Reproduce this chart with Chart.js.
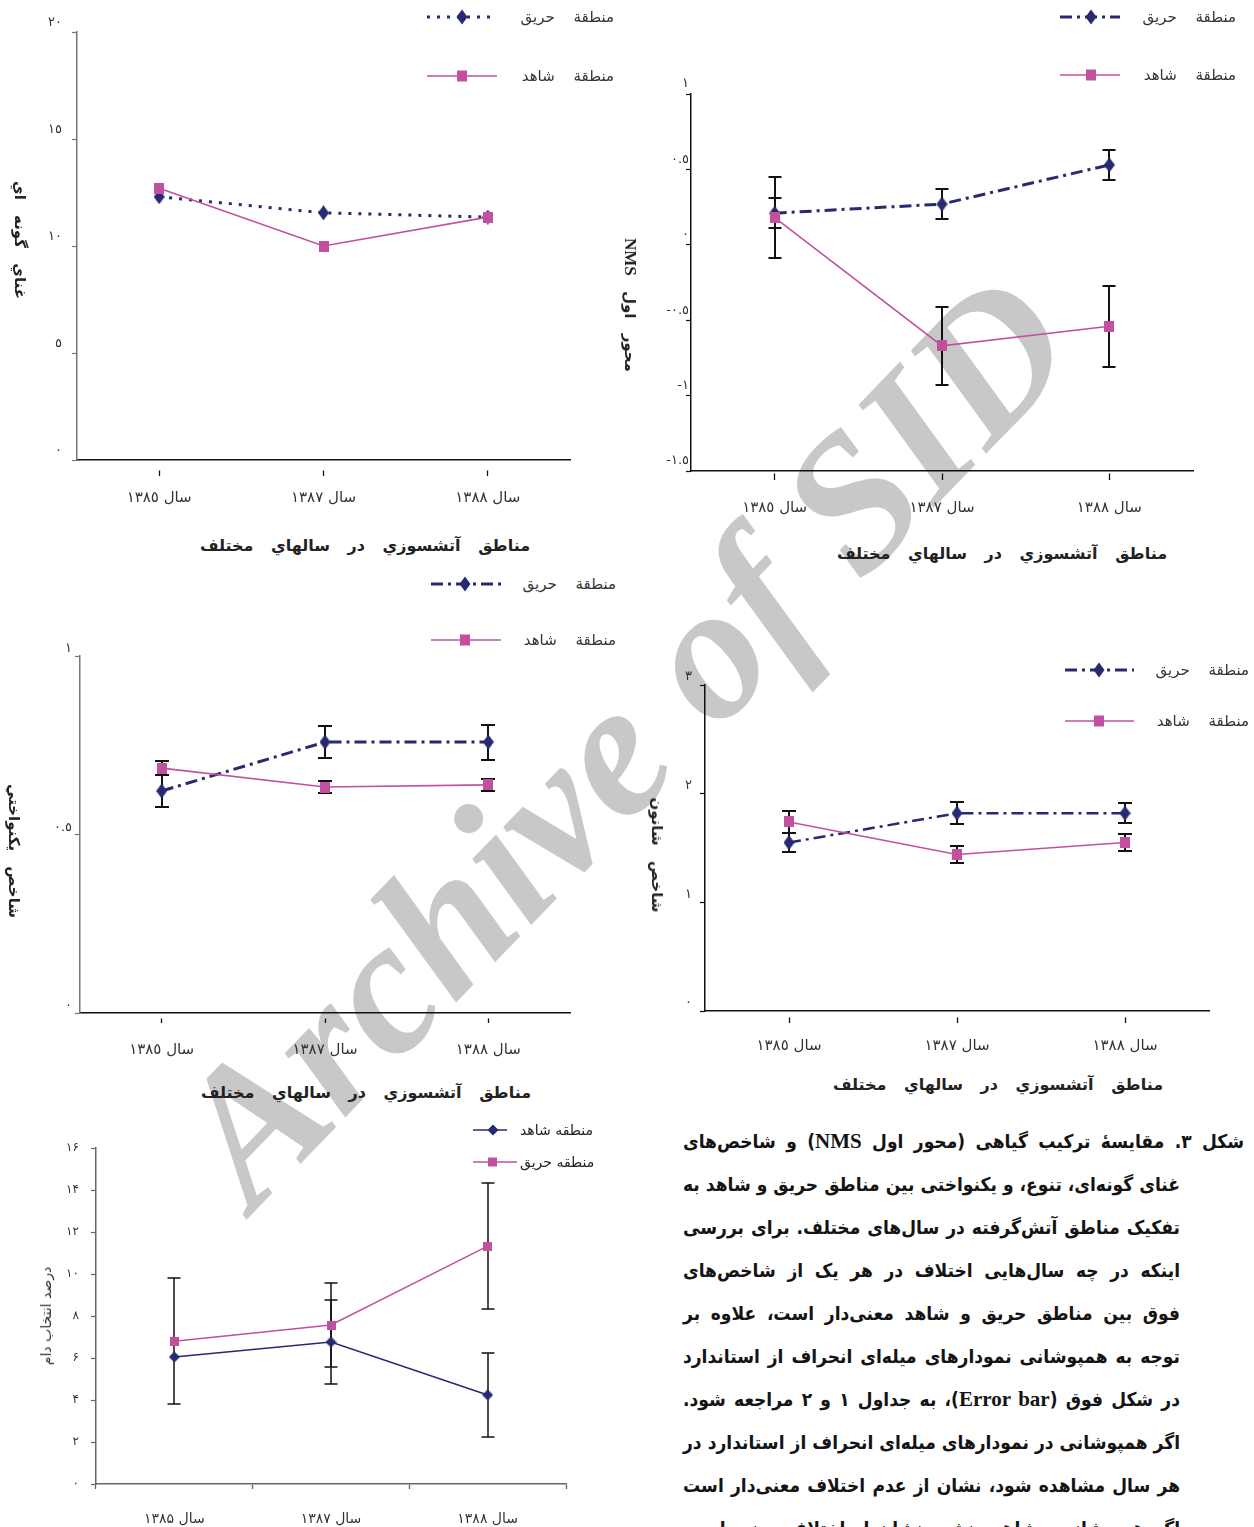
<!DOCTYPE html>
<html lang="fa">
<head>
<meta charset="utf-8">
<title>شکل ۳</title>
<script src="https://cdn.jsdelivr.net/npm/chart.js@4.4.1/dist/chart.umd.min.js"></script>
<style>
  html, body { margin: 0; padding: 0; background: #fff; }
  body { position: relative; width: 1254px; height: 1527px; overflow: hidden;
         font-family: "DejaVu Sans", sans-serif; color: #333; }
  canvas.ch { position: absolute; z-index: 2; }
  .abs { position: absolute; z-index: 3; white-space: nowrap; direction: rtl; }
  .lg { font-size: 15px; word-spacing: 14px; line-height: 18px; color: #333; }
  .lg5 { font-size: 14px; line-height: 18px; color: #222; }
  .xt { font-weight: bold; font-size: 16px; word-spacing: 12px; color: #222;
        transform: translate(-50%, -50%); }
  .yt { font-weight: bold; font-size: 15px; word-spacing: 10px; color: #222;
        transform: translate(-50%, -50%) rotate(90deg); }
  .yt5 { font-size: 14px; color: #333; transform: translate(-50%, -50%) rotate(-90deg); }
  .lat { font-family: "Liberation Serif", serif; font-weight: bold; font-size: 17px; word-spacing: 0; }
  #wm { position: absolute; z-index: 1; left: 622px; top: 738px; white-space: nowrap;
        font: italic bold 192px "Liberation Serif", serif; color: #c8c8c8;
        transform: translate(-50%, -50%) rotate(-46deg); }
  #cap { position: absolute; z-index: 3; left: 0; top: 0; direction: rtl;
         font-family: "DejaVu Sans Condensed", "DejaVu Sans", sans-serif;
         font-weight: bold; font-size: 19px; color: #141414; }
  #cap div { position: absolute; white-space: nowrap; height: 43px; line-height: 43px;
             text-align: justify; text-align-last: justify; }
  #cap .lat { font-size: 21px; }
</style>
</head>
<body>
<div id="wm">Archive of SID</div>

<canvas class="ch" id="c1" width="600" height="520" style="left:0;top:0"></canvas>
<canvas class="ch" id="c2" width="620" height="530" style="left:620px;top:0"></canvas>
<canvas class="ch" id="c3" width="600" height="470" style="left:0;top:600px"></canvas>
<canvas class="ch" id="c4" width="620" height="430" style="left:630px;top:640px"></canvas>
<canvas class="ch" id="c5" width="600" height="417" style="left:0;top:1110px"></canvas>

<div id="cap">
  <div style="left:683px;width:561px;top:1120px">شکل ۳. مقایسهٔ ترکیب گیاهی (محور اول <span class="lat">NMS</span>) و شاخص‌های</div>
  <div style="left:683px;width:497px;top:1163px">غنای گونه‌ای، تنوع، و یکنواختی بین مناطق حریق و شاهد به</div>
  <div style="left:683px;width:497px;top:1206px">تفکیک مناطق آتش‌گرفته در سال‌های مختلف. برای بررسی</div>
  <div style="left:683px;width:497px;top:1249px">اینکه در چه سال‌هایی اختلاف در هر یک از شاخص‌های</div>
  <div style="left:683px;width:497px;top:1292px">فوق بین مناطق حریق و شاهد معنی‌دار است، علاوه بر</div>
  <div style="left:683px;width:497px;top:1335px">توجه به همپوشانی نمودارهای میله‌ای انحراف از استاندارد</div>
  <div style="left:683px;width:497px;top:1378px">در شکل فوق (<span class="lat">Error bar</span>)، به جداول ۱ و ۲ مراجعه شود.</div>
  <div style="left:683px;width:497px;top:1421px">اگر همپوشانی در نمودارهای میله‌ای انحراف از استاندارد در</div>
  <div style="left:683px;width:497px;top:1464px">هر سال مشاهده شود، نشان از عدم اختلاف معنی‌دار است</div>
  <div style="left:683px;width:497px;top:1507px">اگر همپوشانی مشاهده نشود نشان از اختلاف معنی‌دار در</div>
</div>

<script>
"use strict";

// ---------------------------------------------------------------------------
// Values
// ---------------------------------------------------------------------------
const YEARS_AR = ["سال ١٣٨٥", "سال ١٣٨٧", "سال ١٣٨٨"];
const YEARS_FA = ["سال ۱۳۸۵", "سال ۱۳۸۷", "سال ۱۳۸۸"];

// species richness (no error bars)
const RICH_FIRE = [12.3, 11.55, 11.35];
const RICH_CTRL = [12.7, 10.0, 11.35];

// NMS axis 1, mean and SD
const NMS_FIRE = [0.21, 0.27, 0.53];
const NMS_FIRE_SD = [0.1, 0.1, 0.1];
const NMS_CTRL = [0.18, -0.67, -0.54];
const NMS_CTRL_SD = [0.27, 0.26, 0.27];

// evenness
const EVEN_FIRE = [0.622, 0.759, 0.759];
const EVEN_FIRE_SD = [0.046, 0.046, 0.049];
const EVEN_CTRL = [0.686, 0.633, 0.639];
const EVEN_CTRL_SD = [0.02, 0.017, 0.017];

// shannon
const SHAN_FIRE = [1.55, 1.82, 1.82];
const SHAN_FIRE_SD = [0.09, 0.1, 0.09];
const SHAN_CTRL = [1.74, 1.44, 1.55];
const SHAN_CTRL_SD = [0.1, 0.08, 0.08];

// grazing preference (%)
const GRAZE_CTRL = [6.05, 6.76, 4.24];
const GRAZE_CTRL_SD = [null, 2.0, 2.0];
const GRAZE_FIRE = [6.8, 7.57, 11.33];
const GRAZE_FIRE_SD = [3.0, 2.0, 3.0];

// ---------------------------------------------------------------------------
// helpers
// ---------------------------------------------------------------------------
const NAVY = "#272a6e";
const PINK = "#c1519f";
const DASHDOT = [12, 5, 3, 5];

const AR = "٠١٢٣٤٥٦٧٨٩";
const FA = "۰۱۲۳۴۵۶۷۸۹";
const toAr = (v) => String(+v.toFixed(2)).replace(/\d/g, (d) => AR[d]);
const toFa = (v) => String(+v.toFixed(2)).replace(/\d/g, (d) => FA[d]);

function diamond(w, h, color) {
  const c = document.createElement("canvas");
  c.width = w; c.height = h;
  const g = c.getContext("2d");
  g.fillStyle = color;
  g.beginPath();
  g.moveTo(w / 2, 0); g.lineTo(w, h / 2); g.lineTo(w / 2, h); g.lineTo(0, h / 2);
  g.closePath(); g.fill();
  return c;
}
function square(w, h, color) {
  const c = document.createElement("canvas");
  c.width = w; c.height = h;
  const g = c.getContext("2d");
  g.fillStyle = color;
  g.fillRect(0, 0, w, h);
  return c;
}

// error bars drawn under the markers, from ds.errors
const errorBars = {
  id: "errorBars",
  beforeDatasetsDraw(chart, args, opts) {
    const { ctx } = chart;
    const y = chart.scales.y;
    chart.data.datasets.forEach((ds, i) => {
      if (!ds.errors) return;
      chart.getDatasetMeta(i).data.forEach((pt, j) => {
        const e = ds.errors[j];
        if (e == null) return;
        const top = Math.round(y.getPixelForValue(ds.data[j] + e));
        const bot = Math.round(y.getPixelForValue(ds.data[j] - e));
        const x = Math.round(pt.x), hw = opts.cap || 6;
        ctx.save();
        ctx.strokeStyle = "#111";
        ctx.lineWidth = opts.width || 2;
        ctx.beginPath();
        ctx.moveTo(x, top); ctx.lineTo(x, bot);
        ctx.moveTo(x - hw, top); ctx.lineTo(x + hw, top);
        ctx.moveTo(x - hw, bot); ctx.lineTo(x + hw, bot);
        ctx.stroke();
        ctx.restore();
      });
    });
  },
};

function series(data, errors, color, width, dash, marker) {
  return {
    data, errors, borderColor: color, backgroundColor: color, borderWidth: width,
    borderDash: dash || [], borderCapStyle: "butt", pointStyle: marker,
    pointRadius: 7, tension: 0, fill: false,
  };
}

function lineChart(id, o) {
  const font = { family: "DejaVu Sans", size: o.fontSize || 15 };
  return new Chart(document.getElementById(id), {
    type: "line",
    data: { labels: o.labels, datasets: o.datasets },
    options: {
      responsive: false, animation: false,
      layout: { padding: o.pad },
      plugins: {
        legend: { display: false }, tooltip: { enabled: false },
        errorBars: o.err || {},
      },
      scales: {
        x: {
          offset: true,
          border: { color: o.xColor, width: 1.5 },
          grid: {
            drawOnChartArea: false, offset: !!o.xGridOffset, color: o.xColor,
            tickLength: o.xTick[0], tickBorderDash: o.xTick[1] || [], tickWidth: 1.3,
          },
          ticks: { padding: o.xTick[2], color: "#333", font, maxRotation: 0, autoSkip: false },
          afterFit: (s) => { s.height = o.xHeight; },
        },
        y: {
          min: o.y[0], max: o.y[1],
          border: { color: o.yColor, width: 1.5 },
          grid: { drawOnChartArea: false, tickLength: 5, color: o.yColor, tickWidth: 1.2 },
          ticks: {
            stepSize: o.y[2], labelOffset: o.labelOffset || 0, padding: o.yPad,
            color: "#333", font: { family: "DejaVu Sans", size: o.yFontSize || 13 },
            callback: o.fmt,
          },
          afterFit: (s) => { s.width = o.yWidth; },
        },
      },
    },
    plugins: [errorBars],
  });
}

// ---------------------------------------------------------------------------
// charts
// ---------------------------------------------------------------------------
const dmd = diamond(11, 15, NAVY);
const sq = square(10, 11, PINK);

lineChart("c1", {
  labels: YEARS_AR,
  datasets: [
    series(RICH_CTRL, null, PINK, 1.6, null, sq),
    series(RICH_FIRE, null, NAVY, 3, [3, 7], dmd),
  ],
  y: [0, 20, 5], fmt: toAr, labelOffset: -9, yPad: 10, yWidth: 77,
  xHeight: 60, xTick: [16, [0, 10, 6, 50], 13],
  pad: { top: 32, right: 30, left: 0, bottom: 0 },
  xColor: "#111", yColor: "#777",
});

lineChart("c2", {
  labels: YEARS_AR,
  datasets: [
    series(NMS_CTRL, NMS_CTRL_SD, PINK, 1.6, null, sq),
    series(NMS_FIRE, NMS_FIRE_SD, NAVY, 3, DASHDOT, dmd),
  ],
  y: [-1.5, 1, 0.5], fmt: toAr, labelOffset: -10, yPad: -3, yWidth: 71,
  xHeight: 59, xTick: [9, [0, 2, 7, 50], 19],
  pad: { top: 94, right: 47, left: 0, bottom: 0 },
  xColor: "#111", yColor: "#111", err: { cap: 6.5, width: 2 },
});

lineChart("c3", {
  labels: YEARS_AR,
  datasets: [
    series(EVEN_CTRL, EVEN_CTRL_SD, PINK, 1.6, null, sq),
    series(EVEN_FIRE, EVEN_FIRE_SD, NAVY, 3, DASHDOT, dmd),
  ],
  y: [0, 1, 0.5], fmt: toAr, labelOffset: -7, yPad: 3, yWidth: 80,
  xHeight: 57, xTick: [10, [0, 5, 5, 50], 18],
  pad: { top: 56, right: 30, left: 0, bottom: 0 },
  xColor: "#111", yColor: "#777", err: { cap: 7, width: 2 },
});

lineChart("c4", {
  labels: YEARS_AR,
  datasets: [
    series(SHAN_CTRL, SHAN_CTRL_SD, PINK, 1.6, null, sq),
    series(SHAN_FIRE, SHAN_FIRE_SD, NAVY, 2.5, DASHDOT, dmd),
  ],
  y: [0, 3, 1], fmt: toAr, labelOffset: -8, yPad: 8, yWidth: 75,
  xHeight: 59, xTick: [12, [0, 6, 6, 50], 14],
  pad: { top: 45, right: 41, left: 0, bottom: 0 },
  xColor: "#111", yColor: "#111", err: { cap: 7, width: 2 },
});

lineChart("c5", {
  labels: YEARS_FA,
  datasets: [
    series(GRAZE_FIRE, GRAZE_FIRE_SD, PINK, 1.5, null, square(9, 9, PINK)),
    series(GRAZE_CTRL, GRAZE_CTRL_SD, NAVY, 1.5, null, diamond(11, 11, NAVY)),
  ],
  y: [0, 16, 2], fmt: toFa, labelOffset: 0, yPad: 12, yWidth: 96, yFontSize: 12,
  xHeight: 43, xGridOffset: true, xTick: [5, [], 22],
  pad: { top: 38, right: 34, left: 0, bottom: 0 }, fontSize: 14,
  xColor: "#666", yColor: "#666", err: { cap: 6.5, width: 1.5 },
});

// ---------------------------------------------------------------------------
// legends and axis titles (plain text)
// ---------------------------------------------------------------------------
function put(cls, html, x, y) {
  const d = document.createElement("div");
  d.className = "abs " + cls;
  d.innerHTML = html;
  d.style.left = x + "px";
  d.style.top = y + "px";
  document.body.appendChild(d);
  return d;
}

function legendRow(x1, x2, mx, y, textX, text, kind, cls) {
  const w = x2 - x1, m = mx - x1;
  const fire = kind.startsWith("fire");
  const color = fire ? NAVY : PINK;
  let dash = "", lw = 1.6;
  if (kind === "fire-dot") { dash = "3 7"; lw = 3; }
  if (kind === "fire-dd") { dash = DASHDOT.join(" "); lw = 3; }
  if (kind === "fire-solid") { lw = 1.5; }
  const small = cls === "lg5";
  const mk = fire
    ? `<polygon fill="${NAVY}" points="${m},${9 - (small ? 5.5 : 7.5)} ${m + 5.5},9 ${m},${9 + (small ? 5.5 : 7.5)} ${m - 5.5},9"/>`
    : `<rect fill="${PINK}" x="${m - 5}" y="${small ? 4.5 : 3.5}" width="${small ? 9 : 10}" height="${small ? 9 : 11}"/>`;
  const svg = `<svg width="${w}" height="18" style="position:absolute;left:${x1}px;top:${y - 9}px;z-index:3">` +
    `<line x1="0" y1="9" x2="${w}" y2="9" stroke="${color}" stroke-width="${lw}"` +
    (dash ? ` stroke-dasharray="${dash}"` : "") + `/>${mk}</svg>`;
  document.body.insertAdjacentHTML("beforeend", svg);
  const t = put(cls, text, 0, y - 9);
  t.style.left = "auto";
  if (small) t.style.left = textX + "px";
  else t.style.right = (1254 - textX) + "px";
}

// chart 1
legendRow(427, 497, 462, 17, 614, "منطقة حريق", "fire-dot", "lg");
legendRow(427, 497, 462, 76, 614, "منطقة شاهد", "ctrl", "lg");
put("yt", "غناي گونه اي", 20, 240);
put("xt", "مناطق آتشسوزي در سالهاي مختلف", 365, 545);

// chart 2
legendRow(1060, 1120, 1091, 17, 1236, "منطقة حريق", "fire-dd", "lg");
legendRow(1060, 1120, 1091, 75, 1236, "منطقة شاهد", "ctrl", "lg");
put("yt", 'محور اول <span class="lat">NMS</span>', 630, 305);
put("xt", "مناطق آتشسوزي در سالهاي مختلف", 1002, 553);

// chart 3
legendRow(431, 501, 465, 584, 616, "منطقة حريق", "fire-dd", "lg");
legendRow(431, 501, 465, 640, 616, "منطقة شاهد", "ctrl", "lg");
put("yt", "شاخص يكنواختي", 14, 851);
put("xt", "مناطق آتشسوزي در سالهاي مختلف", 366, 1092);

// chart 4
legendRow(1065, 1134, 1099, 670, 1249, "منطقة حريق", "fire-dd", "lg");
legendRow(1065, 1134, 1099, 721, 1249, "منطقة شاهد", "ctrl", "lg");
put("yt", "شاخص شانون", 657, 855);
put("xt", "مناطق آتشسوزي در سالهاي مختلف", 998, 1084);

// chart 5
legendRow(473, 507, 493, 1130, 520, "منطقه شاهد", "fire-solid", "lg5");
legendRow(473, 517, 493, 1162, 520, "منطقه حريق", "ctrl", "lg5");
put("yt5", "درصد انتخاب دام", 46, 1316);
</script>
</body>
</html>
